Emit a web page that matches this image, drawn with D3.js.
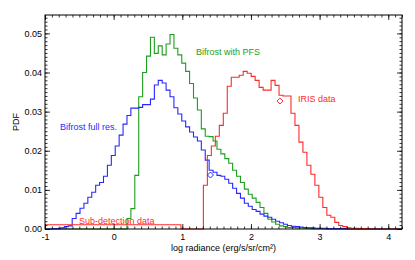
<!DOCTYPE html>
<html>
<head>
<meta charset="utf-8">
<script src="https://cdn.jsdelivr.net/npm/d3@7"></script>
<style>
  body { margin: 0; background: #fff; }
  svg text { font-family: "Liberation Sans", Arial, sans-serif; }
</style>
</head>
<body>
<div id="chart"></div>
<script>
// Bifrost histograms share one binning, IRIS has its own
const bifrostStart = -0.889;
const bifrostWidth = 0.057;
const irisStart = 1.307;
const irisWidth = 0.058;

const bifrostFull = [
    0.0001, 0.0001, 0.0003, 0.0006, 0.0008, 0.0027, 0.0040, 0.0053, 0.0066, 0.0081,
    0.0094, 0.0112, 0.0119, 0.0135, 0.0163, 0.0188, 0.0212, 0.0240, 0.0268, 0.0290,
    0.0309, 0.0309, 0.0311, 0.0318, 0.0318, 0.0332, 0.0368, 0.0380, 0.0373, 0.0355,
    0.0338, 0.0310, 0.0294, 0.0276, 0.0261, 0.0248, 0.0235, 0.0225, 0.0202, 0.0176,
    0.0150, 0.0145, 0.0137, 0.0135, 0.0127, 0.0117, 0.0104, 0.0091, 0.0079, 0.0066,
    0.0058, 0.0050, 0.0045, 0.0038, 0.0033, 0.0030, 0.0025, 0.0020, 0.0016, 0.0012,
    0.0009, 0.0007, 0.0006, 0.0005, 0.0004, 0.0003, 0.0003, 0.0002, 0.0002, 0.0002,
    0.0001, 0.0001, 0.0001, 0.0001, 0.0001
];

const bifrostPFS = [
    0, 0, 0, 0, 0, 0, 0, 0, 0, 0,
    0, 0, 0, 0, 0, 0, 0, 0, 0, 0.0027,
    0.0052, 0.0137, 0.0338, 0.0400, 0.0442, 0.0490, 0.0449, 0.0468, 0.0445, 0.0473,
    0.0497, 0.0462, 0.0445, 0.0424, 0.0403, 0.0372, 0.0335, 0.0304, 0.0256, 0.0237,
    0.0236, 0.0225, 0.0204, 0.0192, 0.0180, 0.0168, 0.0150, 0.0135, 0.0119, 0.0102,
    0.0089, 0.0079, 0.0068, 0.0055, 0.0040, 0.0025, 0.0018, 0.0012, 0.0008, 0.0006,
    0.0004, 0.0004, 0.0003, 0.0003, 0.0002, 0.0002, 0.0001, 0.0001, 0.0001
];

const irisData = [
    0.0112, 0.0188, 0.0212, 0.0237, 0.0265, 0.0296, 0.0365, 0.0388, 0.0388, 0.0393,
    0.0403, 0.0398, 0.0390, 0.0380, 0.0362, 0.0355, 0.0355, 0.0380, 0.0367, 0.0342,
    0.0340, 0.0340, 0.0296, 0.0265, 0.0222, 0.0196, 0.0163, 0.0140, 0.0112, 0.0081,
    0.0055, 0.0035, 0.0030, 0.0017, 0.0009, 0.0006, 0.0003, 0.0002, 0.0002, 0.0001,
    0.0001, 0.0001
];

// sub-detection level: flat from -1 up to the cut
const subDetection = { from: -1, to: 0.98, value: 0.0011 };

// diamond markers [log radiance, pdf]
const blueMarker = [1.41, 0.0138];
const redMarker = [2.423, 0.0327];

const xMajor = [-1, 0, 1, 2, 3, 4];
const yMajor = [0, 0.01, 0.02, 0.03, 0.04, 0.05];

const W = 415, H = 260;
const pLeft = 45, pRight = 402, pTop = 15, pBottom = 229;

const colBlue = '#2828ff', colGreen = '#1e9e1e', colRed = '#ff2a2a';

const svg = d3.select('#chart').append('svg')
    .attr('width', W).attr('height', H)
    .style('background', '#fff');

const x = d3.scaleLinear().domain([-1, 4.2]).range([pLeft, pRight]);
const y = d3.scaleLinear().domain([0, 0.0547]).range([pBottom, pTop]);

function histPoints(start, width, vals) {
    const pts = [[-1, 0]];
    vals.forEach((v, i) => pts.push([start + i * width, v]));
    pts.push([start + vals.length * width, 0]);
    pts.push([4.2, 0]);
    return pts;
}

const line = d3.line()
    .x(d => x(d[0]))
    .y(d => y(d[1]))
    .curve(d3.curveStepAfter);

const greenPts = histPoints(bifrostStart, bifrostWidth, bifrostPFS);
const bluePts = histPoints(bifrostStart, bifrostWidth, bifrostFull);
const redPts = [[subDetection.from, subDetection.value], [subDetection.to, 0]]
    .concat(histPoints(irisStart, irisWidth, irisData).slice(1));

svg.append('path').attr('d', line(greenPts))
    .attr('fill', 'none').attr('stroke', colGreen).attr('stroke-width', 1.1);
svg.append('path').attr('d', line(bluePts))
    .attr('fill', 'none').attr('stroke', colBlue).attr('stroke-width', 1.1);
svg.append('path').attr('d', line(redPts))
    .attr('fill', 'none').attr('stroke', colRed).attr('stroke-width', 1.1);

// open diamonds
const diamond = (cx, cy, r) => `M${cx},${cy - r}L${cx + r},${cy}L${cx},${cy + r}L${cx - r},${cy}Z`;
[[blueMarker, colBlue], [redMarker, colRed]].forEach(([m, c]) => {
    svg.append('path')
        .attr('d', diamond(x(m[0]), y(m[1]), 3))
        .attr('fill', 'none').attr('stroke', c).attr('stroke-width', 1);
});

// axes, ticks inward on all four sides
const xMinor = d3.range(-1, 4.21, 0.1).map(v => +v.toFixed(2));
const yMinor = d3.range(0, 0.0547, 0.001).map(v => +v.toFixed(4));

function drawAxis(gen, transform, ticks, size, labels) {
    const g = svg.append('g').attr('transform', transform)
        .call(gen.tickValues(ticks).tickSize(size).tickPadding(labels ? 5 : 0)
            .tickFormat(labels || (() => '')));
    g.select('.domain').remove();
    g.selectAll('line').attr('stroke', '#000').attr('stroke-width', 0.8);
    g.selectAll('text').attr('fill', '#000').style('font-size', '9px');
    return g;
}

drawAxis(d3.axisBottom(x), `translate(0,${pBottom})`, xMinor, -2.5, null);
drawAxis(d3.axisBottom(x), `translate(0,${pBottom})`, xMajor, -5, d => d3.format('d')(d).replace('−', '-'));
drawAxis(d3.axisTop(x), `translate(0,${pTop})`, xMinor, -2.5, null);
drawAxis(d3.axisTop(x), `translate(0,${pTop})`, xMajor, -5, null);

drawAxis(d3.axisLeft(y), `translate(${pLeft},0)`, yMinor, -2.5, null);
drawAxis(d3.axisLeft(y), `translate(${pLeft},0)`, yMajor, -5, d3.format('.2f'))
    .selectAll('text').attr('x', -3);
drawAxis(d3.axisRight(y), `translate(${pRight},0)`, yMinor, -2.5, null);
drawAxis(d3.axisRight(y), `translate(${pRight},0)`, yMajor, -5, null);

svg.append('rect')
    .attr('x', pLeft).attr('y', pTop)
    .attr('width', pRight - pLeft).attr('height', pBottom - pTop)
    .attr('fill', 'none').attr('stroke', '#000').attr('stroke-width', 1);

// axis titles
svg.append('text')
    .attr('x', (pLeft + pRight) / 2).attr('y', 251)
    .attr('text-anchor', 'middle')
    .style('font-size', '9px')
    .text('log radiance (erg/s/sr/cm²)');

svg.append('text')
    .attr('transform', `translate(19,122) rotate(-90)`)
    .attr('text-anchor', 'middle')
    .style('font-size', '9px')
    .text('PDF');

// series annotations
const notes = [
    ['Bifrost full res.', -0.781, 0.0254, colBlue],
    ['Bifrost with PFS', 1.2, 0.0445, colGreen],
    ['IRIS data', 2.685, 0.0325, colRed],
    ['Sub-detection data', -0.505, 0.00128, colRed]
];
notes.forEach(([t, vx, vy, c]) => {
    svg.append('text')
        .attr('x', x(vx)).attr('y', y(vy))
        .attr('fill', c)
        .style('font-size', '9px')
        .text(t);
});
</script>
</body>
</html>
